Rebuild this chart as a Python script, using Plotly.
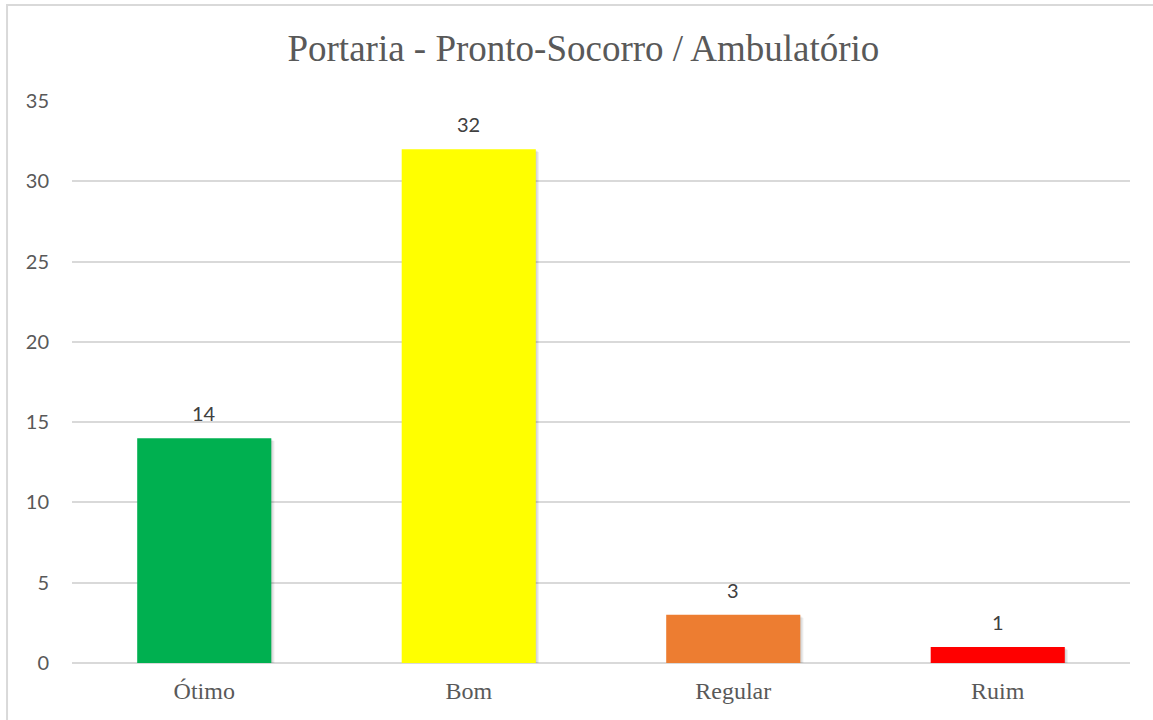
import plotly.graph_objects as go

# dados
categorias = ["Ótimo", "Bom", "Regular", "Ruim"]
valores = [14, 32, 3, 1]
cores = ["#00B050", "#FFFF00", "#ED7D31", "#FF0000"]
y_ticks = [0, 5, 10, 15, 20, 25, 30, 35]

largura = 0.507

fig = go.Figure()

# sombra suave das barras (estilo Excel)
for k in [1, 2, 3]:
    fig.add_trace(go.Bar(
        x=categorias,
        y=valores,
        base=[-0.06 * k] * len(valores),
        width=largura,
        offset=-largura / 2 + 0.004 * k,
        marker=dict(color="rgba(0,0,0,0.06)", line=dict(width=0)),
        hoverinfo="skip",
    ))

fig.add_trace(go.Bar(
    x=categorias,
    y=valores,
    marker=dict(color=cores, line=dict(width=0)),
    width=largura,
    offset=-largura / 2,
    hoverinfo="x+y",
))

# rotulos de dados acima das barras
for c, v in zip(categorias, valores):
    fig.add_annotation(x=c, y=v, text=str(v), showarrow=False,
                       yanchor="bottom", yshift=11,
                       font=dict(family="Lato", size=20, color="#404040"))

# moldura do grafico (borda cinza)
fig.add_shape(type="rect", xref="paper", yref="paper",
              x0=-0.0614, x1=1.2, y0=-0.3, y1=1.1708,
              line=dict(color="#d9d9d9", width=2), layer="below")

fig.update_layout(
    width=1153, height=720,
    margin=dict(l=72, r=23, t=101, b=57),
    paper_bgcolor="white", plot_bgcolor="white",
    title=dict(text="Portaria - Pronto-Socorro / Ambulatório",
               x=0.506, xref="container", xanchor="center",
               y=1 - 48 / 720, yanchor="middle",
               font=dict(family="Liberation Serif", size=37, color="#595959")),
    showlegend=False,
    barmode="overlay",
)
fig.update_yaxes(range=[0, 35], tickvals=y_ticks, showgrid=True,
                 gridcolor="#d9d9d9", gridwidth=1.5, zeroline=True,
                 zerolinecolor="#d9d9d9", zerolinewidth=1.5, showline=False,
                 ticks="", ticklabelstandoff=22,
                 tickfont=dict(family="Lato", size=20, color="#595959"))
fig.update_xaxes(showgrid=False, showline=False, ticks="", ticklabelstandoff=11,
                 tickfont=dict(family="Liberation Serif", size=24, color="#595959"))

# tira a margem padrao do body para o grafico ocupar a janela toda
fig.write_html("out.html", config={"displayModeBar": False},
               post_script="document.body.style.margin='0';")
